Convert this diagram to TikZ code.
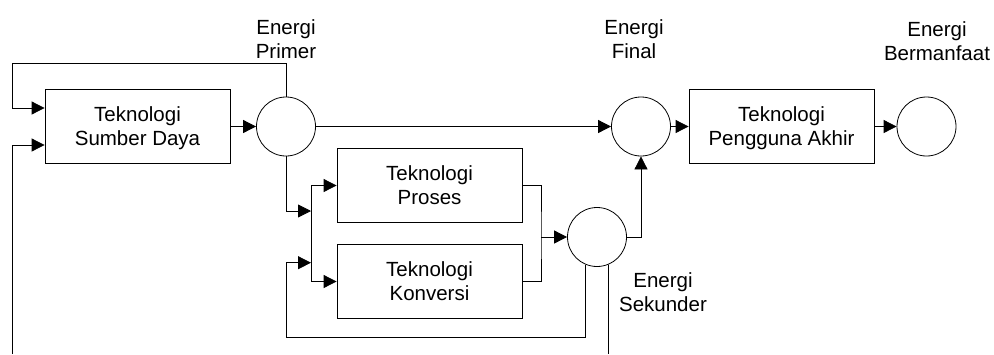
\documentclass[tikz,border=0pt]{standalone}
\usepackage{fontspec}
\setmainfont{Liberation Sans}
\usetikzlibrary{arrows.meta}
\begin{document}
\begin{tikzpicture}[x=1pt,y=-1pt,
  txt/.style={align=center, font=\fontsize{20.5}{24}\selectfont, text depth=0pt},
  box/.style={txt, draw, line width=0.8pt, minimum width=185pt, minimum height=74pt, inner sep=0pt},
  circ/.style={draw, circle, line width=0.8pt, minimum size=59pt, inner sep=0pt},
  lbl/.style={txt, inner sep=0pt},
  conn/.style={line width=0.8pt},
  arr/.style={conn, -{Triangle[length=13pt,width=13pt]}},
]
\useasboundingbox (0,0) rectangle (994,354);

% boxes
\node[box] (src) at (137.5,126.5) {Teknologi\\Sumber Daya};
\node[box] (pro) at (429.5,185.5) {Teknologi\\Proses};
\node[box] (kon) at (429.5,281.5) {Teknologi\\Konversi};
\node[box] (end) at (781.5,126.5) {Teknologi\\Pengguna Akhir};

% circles
\node[circ] (c1) at (286,126.5) {};
\node[circ] (c2) at (597,237) {};
\node[circ] (c3) at (641,126.5) {};
\node[circ] (c4) at (926.5,126.5) {};

% labels
\node[lbl] (lp) at (286,39) {Energi\\Primer};
\node[lbl] (lf) at (634,39) {Energi\\Final};
\node[lbl] (lb) at (937,41) {Energi\\Bermanfaat};
\node[lbl] (ls) at (663,292) {Energi\\Sekunder};

% helper coordinates
\coordinate (fbA) at (12,63.5);
\coordinate (fbB) at (12,354);
\coordinate (bt) at (311,185.5);
\coordinate (bb) at (311,281.5);
\coordinate (bm) at (311,211);
\coordinate (bf) at (311,262.7);
\coordinate (fbC) at (286,337);
\coordinate (mj) at (541,237);
\coordinate (outS) at (608,354);

% connectors
\draw[arr] (c1.north) |- (fbA) |- ([yshift=18.5pt]src.west);
\draw[arr] (fbB) |- ([yshift=-18.5pt]src.west);
\draw[arr] (src.east) -- (c1.west);
\draw[arr] (c1.east) -- (c3.west);
\draw[arr] (c3.east) -- (end.west);
\draw[arr] (end.east) -- (c4.west);

\draw[arr] (c1.south) |- (bm);
\draw[conn] (bt) -- (bb);
\draw[arr] (bt) -- (pro.west);
\draw[arr] (bb) -- (kon.west);

\draw[conn] (pro.east) -| (mj) |- (kon.east);
\draw[arr] (mj) -- (c2.west);
\draw[arr] (c2.east) -| (c3.south);
\draw[arr] (c2.248) |- (fbC) |- (bf);
\draw[conn] (c2.292) -- (c2.292 |- outS);
\end{tikzpicture}
\end{document}
